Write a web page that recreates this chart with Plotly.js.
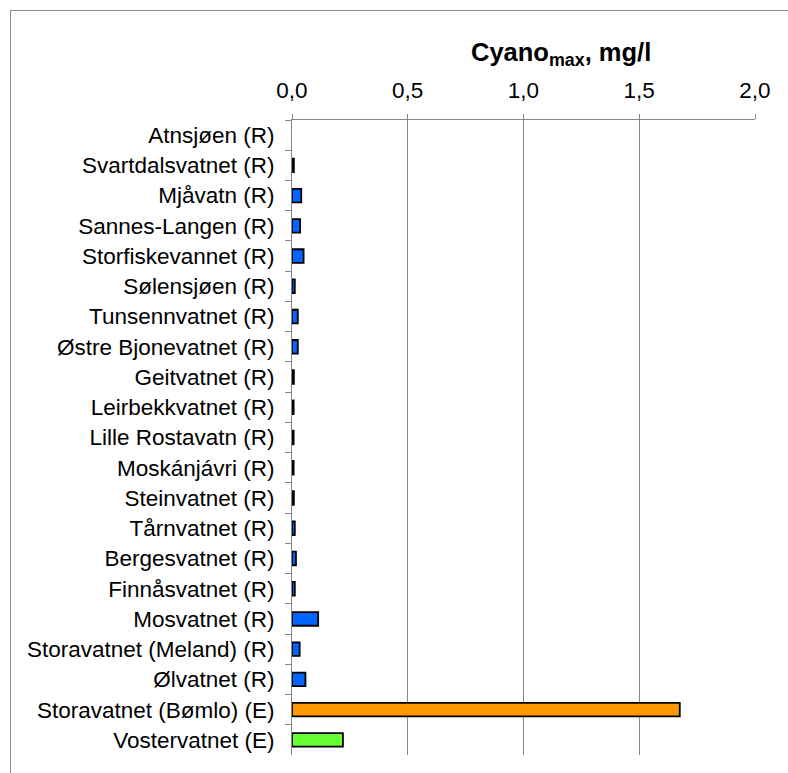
<!DOCTYPE html>
<html>
<head>
<meta charset="utf-8">
<script src="https://cdn.plot.ly/plotly-3.0.1.min.js"></script>
<style>
  body { margin: 0; background: #ffffff; }
  #frame { position: absolute; left: 10px; top: 10px; width: 800px; height: 800px;
           border-left: 1px solid #8c8c8c; border-top: 1px solid #8c8c8c; pointer-events: none; }
  #chart { position: absolute; left: 0; top: 0; width: 788px; height: 773px; }
</style>
</head>
<body>
<div id="chart"></div>
<div id="frame"></div>
<script>
// lakes, top to bottom
var lakes = [
    'Atnsjøen (R)', 'Svartdalsvatnet (R)', 'Mjåvatn (R)', 'Sannes-Langen (R)',
    'Storfiskevannet (R)', 'Sølensjøen (R)', 'Tunsennvatnet (R)', 'Østre Bjonevatnet (R)',
    'Geitvatnet (R)', 'Leirbekkvatnet (R)', 'Lille Rostavatn (R)', 'Moskánjávri (R)',
    'Steinvatnet (R)', 'Tårnvatnet (R)', 'Bergesvatnet (R)', 'Finnåsvatnet (R)',
    'Mosvatnet (R)', 'Storavatnet (Meland) (R)', 'Ølvatnet (R)',
    'Storavatnet (Bømlo) (E)', 'Vostervatnet (E)'
];

// Cyano max, mg/l
var cyanoMax = [
    0, 0.008, 0.04, 0.035,
    0.05, 0.012, 0.025, 0.025,
    0.008, 0.007, 0.007, 0.007,
    0.008, 0.012, 0.017, 0.012,
    0.113, 0.033, 0.058,
    1.675, 0.22
];

var barColors = [
    '#0066ff', '#0066ff', '#0066ff', '#0066ff',
    '#0066ff', '#0066ff', '#0066ff', '#0066ff',
    '#0066ff', '#0066ff', '#0066ff', '#0066ff',
    '#0066ff', '#0066ff', '#0066ff', '#0066ff',
    '#0066ff', '#0066ff', '#0066ff',
    '#ff9900', '#66ff33'
];

var xTicks = [0, 0.5, 1, 1.5, 2];

var axisGrey = '#868686';

// no outline where there is no bar
var outlineWidths = cyanoMax.map(function(v) { return v > 0 ? 1.8 : 0; });

var data = [
    {
        type: 'bar',
        orientation: 'h',
        x: cyanoMax,
        y: lakes,
        width: 0.45,
        hoverinfo: 'none',
        marker: {
            color: barColors,
            line: { color: '#000000', width: outlineWidths }
        }
    }
];

var layout = {
    width: 788,
    height: 773,
    margin: { l: 292, r: 33, t: 120, b: 18 },
    paper_bgcolor: '#ffffff',
    plot_bgcolor: '#ffffff',
    separators: ', ',
    showlegend: false,
    font: { family: 'Arial, "Liberation Sans", sans-serif', size: 22.5, color: '#000000' },
    xaxis: {
        side: 'top',
        range: [0, 2],
        tickvals: xTicks,
        tickformat: '.1f',
        ticks: 'outside',
        ticklen: 5,
        tickcolor: axisGrey,
        ticklabelstandoff: 7,
        showline: true,
        linecolor: axisGrey,
        linewidth: 1,
        showgrid: true,
        gridcolor: axisGrey,
        gridwidth: 1,
        zeroline: false,
        fixedrange: true
    },
    yaxis: {
        type: 'category',
        autorange: 'reversed',
        tickson: 'boundaries',
        ticks: 'outside',
        ticklen: 6,
        tickcolor: axisGrey,
        ticklabelstandoff: 12,
        showline: true,
        linecolor: axisGrey,
        linewidth: 1,
        showgrid: false,
        zeroline: false,
        fixedrange: true
    },
    annotations: [
        {
            text: '<b>Cyano<sub>max</sub>, mg/l</b>',
            xref: 'paper', yref: 'paper',
            x: 0.581, y: 1.104,
            xanchor: 'center', yanchor: 'middle',
            showarrow: false,
            font: { size: 25.5, color: '#000000' }
        }
    ]
};

Plotly.newPlot('chart', data, layout, { displayModeBar: false, staticPlot: true });
</script>
</body>
</html>
